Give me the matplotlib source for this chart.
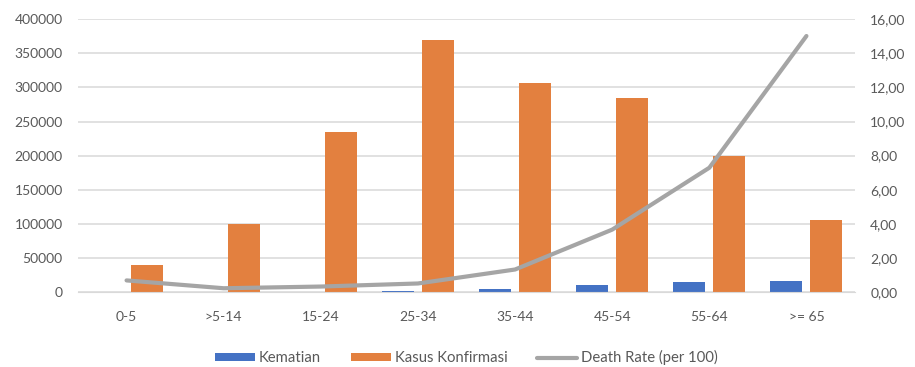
import matplotlib.pyplot as plt
import numpy as np

# data
kelompok_umur = ['0-5', '>5-14', '15-24', '25-34', '35-44', '45-54', '55-64', '>= 65']
kematian = [280, 250, 500, 900, 4100, 10400, 14600, 15800]
kasus_konfirmasi = [40000, 100000, 235000, 370000, 307000, 284500, 200000, 105000]
death_rate = [0.68, 0.22, 0.32, 0.50, 1.32, 3.66, 7.29, 15.02]

left_ticks = [0, 50000, 100000, 150000, 200000, 250000, 300000, 350000, 400000]
right_ticks = [0, 2, 4, 6, 8, 10, 12, 14, 16]

plt.rcParams['font.family'] = ['Lato', 'DejaVu Sans']

fig = plt.figure(figsize=(9.15, 3.67), dpi=100)
ax = fig.add_axes([78 / 915, 75 / 367, 777 / 915, 272.7 / 367])
ax2 = ax.twinx()

x = np.arange(len(kelompok_umur))
w = 0.33
off = 0.206
ax.bar(x - off, kematian, w, color='#4472C4', label='Kematian', zorder=2)
ax.bar(x + off, kasus_konfirmasi, w, color='#E3803F', label='Kasus Konfirmasi', zorder=2)
ax2.plot(x, death_rate, color='#A5A5A5', lw=3, solid_capstyle='round',
         solid_joinstyle='round', label='Death Rate (per 100)')

ax.set_xlim(-0.5, 7.5)
ax.set_ylim(0, 400000)
ax2.set_ylim(0, 16)
ax.set_yticks(left_ticks)
ax.set_yticklabels([str(v) for v in left_ticks])
ax2.set_yticks(right_ticks)
ax2.set_yticklabels([f'{v:.2f}'.replace('.', ',') for v in right_ticks])
ax.set_xticks(x)
ax.set_xticklabels(kelompok_umur)

ax.grid(axis='y', color='#D9D9D9', lw=1.1, zorder=0)
ax.set_axisbelow(True)
for a in (ax, ax2):
    for s in a.spines.values():
        s.set_visible(False)
ax.spines['bottom'].set_visible(True)
ax.spines['bottom'].set_color('#D9D9D9')
ax.tick_params(axis='y', length=0, pad=11, labelsize=10, labelcolor='#595959')
ax2.tick_params(axis='y', length=0, pad=11, labelsize=10, labelcolor='#595959')
ax.tick_params(axis='x', length=0, pad=14, labelsize=10, labelcolor='#595959')

h1, l1 = ax.get_legend_handles_labels()
h2, l2 = ax2.get_legend_handles_labels()
ax.legend(h1 + h2, l1 + l2, loc='upper center', bbox_to_anchor=(0.5, -0.165),
          ncol=3, frameon=False, fontsize=10.7, labelcolor='#595959',
          handlelength=2.7, handleheight=0.5, handletextpad=0.25, columnspacing=2.0)

fig.savefig('out.png', dpi=100, facecolor='white')
